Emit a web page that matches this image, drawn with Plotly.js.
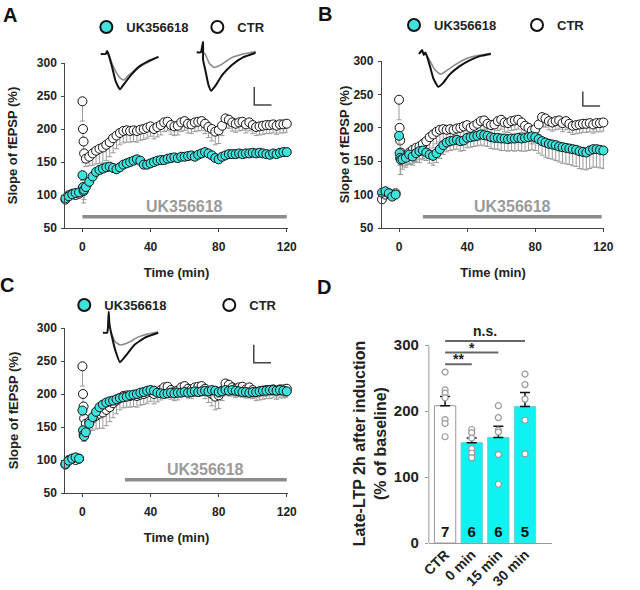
<!DOCTYPE html>
<html><head><meta charset="utf-8">
<script src="https://cdn.plot.ly/plotly-3.0.1.min.js"></script>
<style>html,body{margin:0;padding:0;background:#fff}</style>
</head><body><div id="chart" style="width:640px;height:590px"></div>
<script>
// ---------------- DATA ----------------
const timeMin = [-10,-8,-6,-4,-2,0,0.33,0.67,1,
  2,4,6,8,10,12,14,16,18,20, 22,24,26,28,30,32,34,36,38,40,
  42,44,46,48,50,52,54,56,58,60, 62,64,66,68,70,72,74,76,78,80,
  82,84,86,88,90,92,94,96,98,100, 102,104,106,108,110,112,114,116,118,120];

const ctrMean = [93,100,102,100,102, 242,200,181,163,
  155,158,163,167,170,172,176,180,186,190, 194,197,198,197,198,197,199,200,202,204,
  200,203,206,210,211,206,204,205,210,212, 208,207,210,211,212,208,203,200,196,198,
  205,216,214,210,208,210,211,207,210,206, 203,204,205,206,206,207,205,207,207,208];
const ctrSem = [5,4,4,4,4, 30,18,15,14,
  12,14,18,20,22,24,24,22,22,20, 18,18,18,17,17,17,16,16,16,15,
  15,15,15,14,14,14,14,14,14,14, 14,14,14,14,14,15,16,18,20,20,
  15,14,13,13,13,13,13,13,13,13, 13,13,13,13,13,13,13,13,13,13];

// UK356618 applied at 0 min (A)
const ukAMean = [95,98,101,103,104, 130,112,106,108,
  112,120,128,135,138,140,142,143,141,139, 142,146,148,150,152,154,152,146,146,148,
  150,152,153,153,155,156,157,156,158,158, 159,160,158,161,163,165,163,160,156,154,
  158,160,162,162,162,163,162,163,163,164, 163,164,163,162,161,163,162,164,165,165];
const ukASem = [4,4,4,4,4, 8,12,18,15,
  8,7,6,6,6,6,6,6,6,6, 5,5,5,5,5,5,5,6,6,5,
  5,5,5,5,5,5,5,5,5,5, 5,5,5,5,5,5,5,5,5,5,
  5,5,5,5,5,5,5,5,5,5, 5,5,5,5,5,5,5,5,5,5];

// UK356618 applied at 15 min (B)
const ukBMean = [103,105,102,97,100, 188,162,155,152,
  153,155,160,157,162,165,166,163,160,158, 162,168,174,178,180,181,182,180,181,185,
  186,187,188,190,189,188,186,185,185,184, 184,183,184,184,185,184,185,186,187,186,
  183,180,178,176,175,174,172,171,170,169, 168,167,165,164,163,166,168,168,167,166];
const ukBSem = [4,4,4,4,4, 12,18,25,22,
  15,14,14,13,12,12,12,12,13,14, 14,14,14,14,14,14,14,15,15,15,
  15,15,15,16,16,16,17,17,17,18, 18,18,18,19,19,19,20,20,20,20,
  21,21,22,22,22,23,23,24,24,24, 25,25,26,26,26,27,27,27,27,27];

// UK356618 applied at 30 min (C)
const ukCMean = [94,99,102,104,102, 175,145,138,136,
  142,155,165,173,180,184,187,189,190,192, 194,195,196,198,199,200,202,203,205,206,
  205,202,201,200,201,202,201,202,202,203, 202,203,204,203,204,205,204,206,205,203,
  204,206,205,206,205,204,203,203,202,203, 203,204,205,205,206,206,205,206,205,204];
const ukCSem = [4,4,4,4,4, 8,10,10,8,
  8,8,7,6,6,6,6,6,6,6, 6,6,6,6,6,6,6,6,6,6,
  6,6,6,6,6,6,6,6,6,6, 6,6,6,6,6,7,7,8,8,8,
  8,8,8,8,8,8,8,8,8,8, 8,8,8,8,8,8,8,8,8,8];

const drugName = 'UK356618';
const drugStart = [0, 14, 25];   // min, panels A, B, C
const drugEnd = [120, 119, 120];

// Panel D
const groups = ['CTR', '0 min', '15 min', '30 min'];
const ltpMean = [208, 152, 160, 207];
const ltpSem = [14, 7, 17, 21];
const nSlices = [7, 6, 6, 5];
const ltpCTR = [259, 232, 227, 220, 187, 181, 161];
const ltp0 = [172, 167, 159, 143, 136, 129];
const ltp15 = [208, 190, 171, 168, 134, 89];
const ltp30 = [256, 240, 218, 186, 135];
const sigPairs = [[0, 1, '**'], [0, 2, '*'], [0, 3, 'n.s.']];

// fEPSP sample traces (ms, mV), black = after LTP, gray = baseline
const wA1Ms = [0,1.39,1.86,2.31,3.25,4.36,5.56,6.94,8.8,11.1,13.9,16.7];
const wA1Blk = [0,0,0.08,-0.03,-0.35,-0.77,-0.98,-0.81,-0.58,-0.35,-0.19,-0.08];
const wA1GMs = [1.39,2.14,3.25,4.64,6.03,6.75,7.86,11.1,16.7];
const wA1Gry = [0,0.02,-0.26,-0.54,-0.70,-0.72,-0.61,-0.37,-0.08];
const wA2Ms = [0,1.19,1.86,1.86,2.5,3.42,4.17,5.56,7.42,10.2,13.4,17.1];
const wA2Blk = [0,0,0.29,-0.21,-0.49,-0.91,-1.07,-0.91,-0.63,-0.35,-0.14,-0.01];
const wA2GMs = [1.19,2.31,3.69,5.08,6.94,9.72,13.4,17.1];
const wA2Gry = [0,-0.03,-0.31,-0.42,-0.35,-0.17,-0.05,0.02];
const wBMs = [0,0.92,1.39,1.83,2.31,3.22,4.17,5.56,6.94,8.78,11.6,14.8,17.6,20.8];
const wBBlk = [0,0.11,-0.03,0.04,-0.06,-0.35,-0.68,-0.91,-0.81,-0.58,-0.35,-0.17,-0.06,0];
const wBGMs = [2.31,2.78,4.61,6.28,8.33,11.1,14.8,20.8];
const wBGry = [-0.06,-0.12,-0.44,-0.56,-0.44,-0.26,-0.09,0.02];
const wCMs = [0,1.22,1.44,1.67,1.86,2.61,3.72,4.92,6.78,9.08,12.3,16.0];
const wCBlk = [0,0,0.13,0.58,0.26,-0.11,-0.53,-0.82,-0.62,-0.34,-0.13,0];
const wCGMs = [2.42,3.53,4.92,7.22,10.0,12.8,16.0];
const wCGry = [-0.02,-0.25,-0.34,-0.28,-0.13,-0.04,0.02];

// ---------------- STYLE / LAYOUT ----------------
const W = 640, H = 590;
const FONT = 'Liberation Sans, Arial, sans-serif';
const CYAN = '#40e2de', BARCYAN = '#0ff2f2';
const fx = p => p / W, fy = p => 1 - p / H;
const domX = (a, b) => [fx(a), fx(b)], domY = (top, bot) => [fy(bot), fy(top)];
const zeros = n => new Array(n).fill(0);

const traces = [];
const panels = [
  {xa: 'x', ya: 'y', uk: ukAMean, ukE: ukASem, leg: 'legend', drug: 0, level: 67},
  {xa: 'x2', ya: 'y2', uk: ukBMean, ukE: ukBSem, leg: 'legend2', drug: 1, level: 67},
  {xa: 'x3', ya: 'y3', uk: ukCMean, ukE: ukCSem, leg: 'legend3', drug: 2, level: 70},
];
const annotations = [];
panels.forEach(p => {
  traces.push({type: 'scatter', mode: 'markers', x: timeMin, y: ctrMean, xaxis: p.xa, yaxis: p.ya,
    name: 'CTR', legend: p.leg, cliponaxis: false,
    marker: {size: 9, color: '#ffffff', line: {color: '#111', width: 1}},
    error_y: {type: 'data', symmetric: false, array: zeros(timeMin.length), arrayminus: ctrSem,
      color: '#9a9a9a', thickness: 1, width: 2.5}});
  traces.push({type: 'scatter', mode: 'markers', x: timeMin, y: p.uk, xaxis: p.xa, yaxis: p.ya,
    name: drugName, legend: p.leg, cliponaxis: false,
    marker: {size: 9, color: CYAN, line: {color: '#111', width: 1}},
    error_y: {type: 'data', symmetric: false, array: zeros(timeMin.length), arrayminus: p.ukE,
      color: '#9a9a9a', thickness: 1, width: 2.5}});
  const s = drugStart[p.drug], e = drugEnd[p.drug];
  traces.push({type: 'scatter', mode: 'lines', x: [s, e], y: [p.level, p.level], xaxis: p.xa, yaxis: p.ya,
    showlegend: false, hoverinfo: 'skip', line: {color: '#8c8c8c', width: 3.5}});
  annotations.push({xref: p.xa, yref: p.ya, x: (s + e) / 2, y: p.level + 15, text: drugName,
    showarrow: false, font: {size: 16, color: '#9a9a9a', family: FONT, weight: 'bold'}});
});

// Panel D bars
traces.push({type: 'bar', x: [0, 1, 2, 3], y: ltpMean, xaxis: 'x4', yaxis: 'y4', width: 0.8,
  showlegend: false, text: nSlices.map(String), textposition: 'inside', insidetextanchor: 'start',
  textangle: 0, textfont: {size: 15, color: '#111', family: FONT, weight: 'bold'},
  marker: {color: ['#ffffff', BARCYAN, BARCYAN, BARCYAN], line: {color: ['#999', '#7cc', '#7cc', '#7cc'], width: 1}},
  error_y: {type: 'data', symmetric: false, array: ltpSem, arrayminus: zeros(4), color: '#111', thickness: 1.5, width: 5}});
const dots = [ltpCTR, ltp0, ltp15, ltp30];
const dx = [], dy = [];
dots.forEach((arr, i) => arr.forEach(v => { dx.push(i); dy.push(v); }));
traces.push({type: 'scatter', mode: 'markers', x: dx, y: dy, xaxis: 'x4', yaxis: 'y4', showlegend: false,
  cliponaxis: false, marker: {size: 6, color: '#ffffff', line: {color: '#999', width: 1.2}}});

// Panel D geometry (px)
const D = {l: 447, r: 575, t: 345, b: 543};
const dYdom = domY(D.t, D.b);
const yD2paper = v => dYdom[0] + v / 300 * (dYdom[1] - dYdom[0]);
const shapes = [];
sigPairs.forEach((sp, i) => {
  const lvl = 271 + i * 17.5;
  shapes.push({type: 'line', xref: 'x4', yref: 'paper', x0: sp[0], x1: sp[1], y0: yD2paper(lvl), y1: yD2paper(lvl),
    line: {color: '#666', width: 2}});
  annotations.push({xref: 'x4', yref: 'paper', x: (sp[0] + sp[1]) / 2, y: yD2paper(lvl), yanchor: 'bottom',
    yshift: sp[2] === 'n.s.' ? 0 : -5, text: sp[2], showarrow: false,
    font: {size: 14, color: '#222', family: FONT, weight: 'bold'}});
});
// y-axis line for D only up to 300
shapes.push({type: 'line', xref: 'x4 domain', yref: 'paper', x0: 0, x1: 0, y0: yD2paper(0), y1: yD2paper(300),
  line: {color: '#999', width: 1}});
// D y-axis title (two lines)
annotations.push({xref: 'paper', yref: 'paper', x: fx(386), y: fy(443), textangle: -90, showarrow: false,
  text: 'Late-LTP 2h after induction<br>(% of baseline)', xanchor: 'center', yanchor: 'middle',
  font: {size: 16, color: '#222', family: FONT, weight: 'bold'}});

// Insets (waveforms + scale bars). px per ms / per mV
const PXMS = 3.6, PXMV = 36;
const insets = [
  {id: 5, ox: 105, oy: 54, box: [100, 180, 40, 100], ms: wA1Ms, blk: wA1Blk, gms: wA1GMs, gry: wA1Gry},
  {id: 6, ox: 205, oy: 52.3, box: [200, 292, 36, 110], ms: wA2Ms, blk: wA2Blk, gms: wA2GMs, gry: wA2Gry,
   bar: {x: 265, y: 105, ms: 5, mV: 0.5}},
  {id: 7, ox: 436.7, oy: 54, box: [430, 634, 40, 110], ms: wBMs, blk: wBBlk, gms: wBGMs, gry: wBGry,
   bar: {x: 607.5, y: 106, ms: 5, mV: 0.4}},
  {id: 8, ox: 107.3, oy: 332.7, box: [100, 292, 305, 368], ms: wCMs, blk: wCBlk, gms: wCGMs, gry: wCGry,
   bar: {x: 264.5, y: 362.7, ms: 5, mV: 0.5}},
];
const layout = {
  width: W, height: H, autosize: false, margin: {l: 0, r: 0, t: 0, b: 0},
  paper_bgcolor: '#ffffff', plot_bgcolor: 'rgba(0,0,0,0)',
  font: {family: FONT, size: 12, color: '#222', weight: 'bold'},
  showlegend: true, annotations, shapes,
};
insets.forEach(ins => {
  const xa = 'x' + ins.id, ya = 'y' + ins.id;
  const [x0, x1, y0, y1] = ins.box;
  layout['xaxis' + ins.id] = {domain: domX(x0, x1), range: [(x0 - ins.ox) / PXMS, (x1 - ins.ox) / PXMS],
    visible: false, anchor: ya, fixedrange: true};
  layout['yaxis' + ins.id] = {domain: domY(y0, y1), range: [-(y1 - ins.oy) / PXMV, -(y0 - ins.oy) / PXMV],
    visible: false, anchor: xa, fixedrange: true};
  traces.push({type: 'scatter', mode: 'lines', x: ins.gms, y: ins.gry, xaxis: xa, yaxis: ya, showlegend: false,
    hoverinfo: 'skip', line: {color: '#8a8a8a', width: 1.6, shape: 'spline', smoothing: 0.4}});
  traces.push({type: 'scatter', mode: 'lines', x: ins.ms, y: ins.blk, xaxis: xa, yaxis: ya, showlegend: false,
    hoverinfo: 'skip', line: {color: '#111', width: 2, shape: 'spline', smoothing: 0.4}});
  if (ins.bar) {
    const t0 = (ins.bar.x - ins.ox) / PXMS, v0 = -(ins.bar.y - ins.oy) / PXMV;
    traces.push({type: 'scatter', mode: 'lines', x: [t0, t0, t0 + ins.bar.ms], y: [v0 + ins.bar.mV, v0, v0],
      xaxis: xa, yaxis: ya, showlegend: false, hoverinfo: 'skip', line: {color: '#444', width: 1.5}});
  }
});

const timeAxis = (dom, yid) => ({domain: dom, range: [-10.1, 120.6], anchor: yid, tickvals: [0, 40, 80, 120],
  showline: true, linecolor: '#444', linewidth: 1, ticks: 'outside', ticklen: 3, tickcolor: '#444',
  showgrid: false, zeroline: false, tickfont: {size: 12}, ticklabelstandoff: 5,
  title: {text: 'Time (min)', font: {size: 13}, standoff: 14}});
const slopeAxis = (dom, xid, so) => ({domain: dom, range: [50, 300], anchor: xid, tickvals: [50, 100, 150, 200, 250, 300],
  showline: true, linecolor: '#444', linewidth: 1, ticks: 'outside', ticklen: 3, tickcolor: '#444',
  showgrid: false, zeroline: false, tickfont: {size: 12}, ticklabelstandoff: 2,
  title: {text: 'Slope of fEPSP (%)', font: {size: 13}, standoff: so}});
layout.xaxis = timeAxis(domX(68, 300), 'y');
layout.yaxis = slopeAxis(domY(63, 228), 'x', 16);
layout.xaxis2 = timeAxis(domX(398, 630), 'y2');
layout.yaxis2 = slopeAxis(domY(61, 228), 'x2', 0);
layout.xaxis3 = timeAxis(domX(68, 300), 'y3');
layout.yaxis3 = slopeAxis(domY(328, 493), 'x3', 15);
layout.xaxis4 = {domain: domX(D.l, D.r), range: [-0.61, 4.0], anchor: 'y4', tickvals: [0, 1, 2, 3], ticktext: groups,
  tickangle: -45, showline: true, linecolor: '#999', ticks: '', showgrid: false, zeroline: false,
  tickfont: {size: 14}, ticklabelstandoff: -3};
layout.yaxis4 = {domain: dYdom, range: [0, 300], anchor: 'x4', tickvals: [0, 100, 200, 300],
  showline: false, ticks: 'outside', ticklen: 3, tickcolor: '#999', showgrid: false, zeroline: false,
  tickfont: {size: 15}, ticklabelstandoff: 3};

const legendBase = (x, y, ew) => ({orientation: 'h', x: fx(x), xanchor: 'left', y: fy(y), yanchor: 'middle',
  bgcolor: 'rgba(0,0,0,0)', font: {size: 13, color: '#222'}, traceorder: 'reversed', itemsizing: 'constant',
  entrywidth: ew, entrywidthmode: 'pixels', itemclick: false, itemdoubleclick: false});
layout.legend = legendBase(90, 27, 66);
layout.legend2 = legendBase(411, 25, 78);
layout.legend3 = legendBase(67, 305, 100);

[['A', 10, 15], ['B', 339, 14], ['C', 7, 285], ['D', 338, 287]].forEach(([t, x, y]) => {
  annotations.push({xref: 'paper', yref: 'paper', x: fx(x), y: fy(y), text: t, showarrow: false,
    xanchor: 'center', yanchor: 'middle', font: {size: 20, color: '#111', family: FONT, weight: 'bold'}});
});

Plotly.newPlot('chart', traces, layout, {staticPlot: true, displayModeBar: false});
</script></body></html>
